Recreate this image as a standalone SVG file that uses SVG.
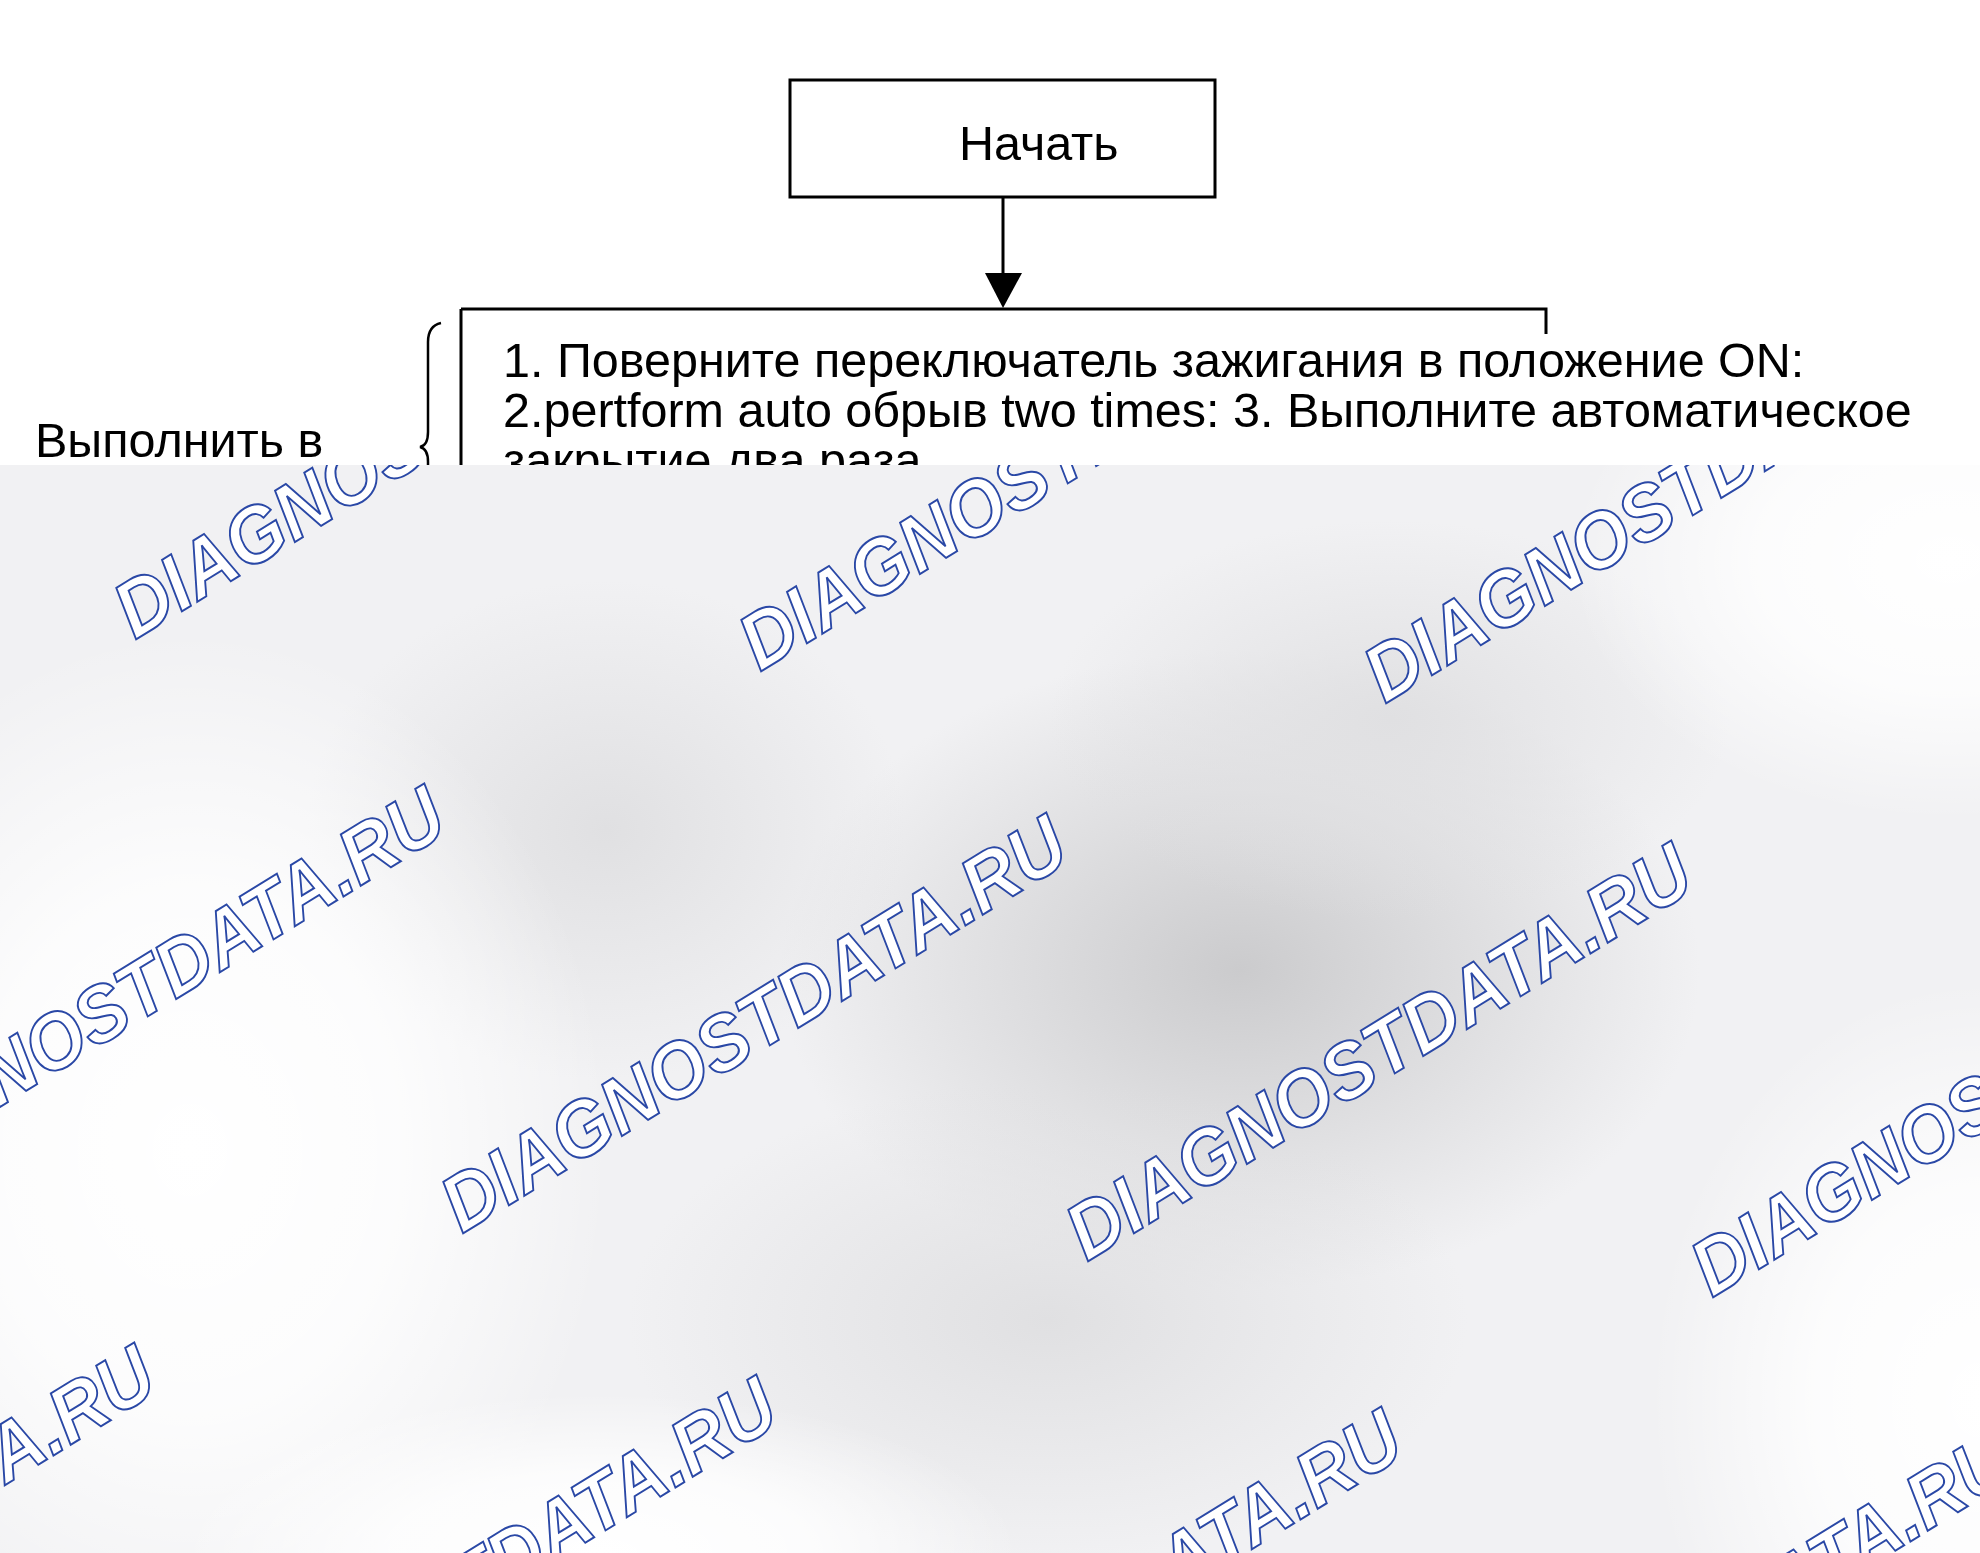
<svg xmlns="http://www.w3.org/2000/svg" width="1980" height="1553" viewBox="0 0 1980 1553">
<style>
.t{font-family:"Liberation Sans",Arial,sans-serif;font-size:48.5px;fill:#000}
.ln{fill:none;stroke:#000;stroke-width:3}
.wm{font-family:"Liberation Sans",Arial,sans-serif;font-size:73px;font-weight:bold;font-style:italic;fill:#fff;stroke:#2a48a6;stroke-width:1.8}
</style>
<defs>
<clipPath id="ov"><rect x="0" y="465" width="1980" height="1088"/></clipPath>
<radialGradient id="dk"><stop offset="0" stop-color="#cbcbcd" stop-opacity="1"/><stop offset="1" stop-color="#cbcbcd" stop-opacity="0"/></radialGradient>
<radialGradient id="md"><stop offset="0" stop-color="#e0e0e2" stop-opacity="1"/><stop offset="1" stop-color="#e0e0e2" stop-opacity="0"/></radialGradient>
<radialGradient id="wh"><stop offset="0" stop-color="#ffffff" stop-opacity="1"/><stop offset="0.5" stop-color="#ffffff" stop-opacity="0.8"/><stop offset="1" stop-color="#ffffff" stop-opacity="0"/></radialGradient>
</defs>
<rect x="0" y="0" width="1980" height="1553" fill="#fff"/>
<g id="node-start">
<rect class="ln" x="790" y="80" width="425" height="117"/>
<text class="t" x="959" y="160">Начать</text>
</g>
<g id="node-step">
<path class="ln" d="M461,309 H1546 V334 M461,309 V480"/>
<text class="t" x="503" y="377">1. Поверните переключатель зажигания в положение ON:</text>
<text class="t" x="503" y="427">2.pertform auto обрыв two times: 3. Выполните автоматическое</text>
<text class="t" x="503" y="477">закрытие два раза</text>
</g>
<g id="node-label">
<text class="t" x="35" y="457">Выполнить в</text>
<path fill="none" stroke="#000" stroke-width="2.5" d="M441,323 C432,325 428,332 428,342 L428,432 C428,441 425,446 420,447 C425,448 428,453 428,462 L428,480"/>
</g>
<g id="connectors">
<line x1="1003" y1="197" x2="1003" y2="275" stroke="#000" stroke-width="3"/>
<path d="M985,273 L1022,273 L1003,308 Z" fill="#000"/>
</g>
<g id="overlay" clip-path="url(#ov)">
<rect x="0" y="465" width="1980" height="1088" fill="#f1f1f3"/>
<ellipse cx="1240" cy="970" rx="460" ry="320" fill="url(#dk)"/>
<ellipse cx="606" cy="830" rx="300" ry="250" fill="url(#md)"/>
<ellipse cx="1048" cy="1320" rx="420" ry="240" fill="url(#md)"/>
<ellipse cx="1390" cy="720" rx="340" ry="200" fill="url(#md)"/>
<ellipse cx="190" cy="1150" rx="420" ry="520" fill="url(#wh)"/>
<ellipse cx="1980" cy="1400" rx="330" ry="420" fill="url(#wh)"/>
<ellipse cx="1950" cy="560" rx="380" ry="260" fill="url(#wh)"/>
<ellipse cx="600" cy="1553" rx="420" ry="160" fill="url(#wh)"/>
<g id="watermarks">
<text class="wm" transform="translate(135 640) rotate(-31.5) scale(1.02 1.08)">DIAGNOSTDATA.RU</text>
<text class="wm" transform="translate(760 672) rotate(-31.5) scale(1.02 1.08)">DIAGNOSTDATA.RU</text>
<text class="wm" transform="translate(1385 704) rotate(-31.5) scale(1.02 1.08)">DIAGNOSTDATA.RU</text>
<text class="wm" transform="translate(-160 1205) rotate(-31.5) scale(1.02 1.08)">DIAGNOSTDATA.RU</text>
<text class="wm" transform="translate(462 1234) rotate(-31.5) scale(1.02 1.08)">DIAGNOSTDATA.RU</text>
<text class="wm" transform="translate(1087 1262) rotate(-31.5) scale(1.02 1.08)">DIAGNOSTDATA.RU</text>
<text class="wm" transform="translate(1712 1298) rotate(-31.5) scale(1.02 1.08)">DIAGNOSTDATA.RU</text>
<text class="wm" transform="translate(-450 1764) rotate(-31.5) scale(1.02 1.08)">DIAGNOSTDATA.RU</text>
<text class="wm" transform="translate(172 1796) rotate(-31.5) scale(1.02 1.08)">DIAGNOSTDATA.RU</text>
<text class="wm" transform="translate(797 1828) rotate(-31.5) scale(1.02 1.08)">DIAGNOSTDATA.RU</text>
<text class="wm" transform="translate(1407 1850) rotate(-31.5) scale(1.02 1.08)">DIAGNOSTDATA.RU</text>
</g>
</g>
</svg>
